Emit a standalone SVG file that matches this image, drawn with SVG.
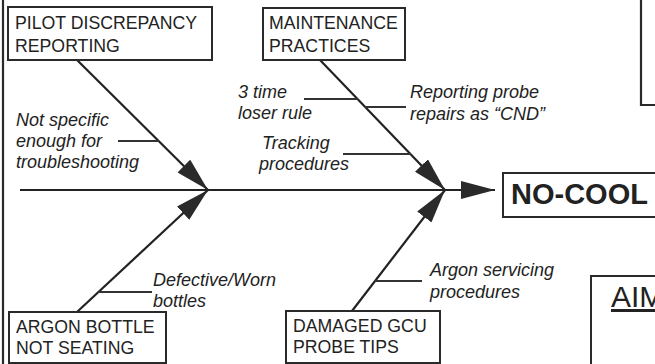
<svg xmlns="http://www.w3.org/2000/svg" width="655" height="364" viewBox="0 0 655 364">
  <style>
    .box { fill: #fff; stroke: #2a2a2a; stroke-width: 2; }
    .frame { fill: none; stroke: #2a2a2a; stroke-width: 2.2; }
    .cause { font-family: "Liberation Sans", Arial, sans-serif; font-size: 17.7px; fill: #222; }
    .note { font-family: "Liberation Sans", Arial, sans-serif; font-size: 18px; font-style: italic; fill: #222; }
    .effect { font-family: "Liberation Sans", Arial, sans-serif; font-size: 29px; font-weight: bold; fill: #222; }
    .aim { font-family: "Liberation Sans", Arial, sans-serif; font-size: 30px; fill: #222; text-decoration: underline; }
    .bone { stroke: #222; stroke-width: 2.2; fill: none; }
    .twig { stroke: #333; stroke-width: 2; fill: none; }
  </style>
  <defs>
    <marker id="head" markerUnits="userSpaceOnUse" markerWidth="34" markerHeight="18" viewBox="0 0 34 18" refX="34" refY="9" orient="auto">
      <path d="M0,0 L34,9 L0,18 Z" fill="#2a2a2a"/>
    </marker>
  </defs>

  <rect width="655" height="364" fill="#fff"/>

  <!-- page frame edges -->
  <line x1="3" y1="0" x2="3" y2="364" class="frame"/>
  <path d="M641,0 V105 H655" class="frame"/>

  <!-- connectors: spine, bones and sub-cause ticks -->
  <g id="connectors">
    <line x1="20" y1="190" x2="495" y2="190" class="bone" marker-end="url(#head)"/>
    <line x1="77" y1="60" x2="208" y2="190" class="bone" marker-end="url(#head)"/>
    <line x1="320" y1="60" x2="445" y2="190" class="bone" marker-end="url(#head)"/>
    <line x1="77" y1="312" x2="208" y2="190" class="bone" marker-end="url(#head)"/>
    <line x1="352" y1="311" x2="445" y2="190" class="bone" marker-end="url(#head)"/>

    <line x1="118" y1="141" x2="159" y2="141" class="twig"/>
    <line x1="304" y1="99" x2="358" y2="99" class="twig"/>
    <line x1="365" y1="107" x2="406" y2="107" class="twig"/>
    <line x1="343" y1="154" x2="411" y2="154" class="twig"/>
    <line x1="98" y1="292" x2="152" y2="292" class="twig"/>
    <line x1="375" y1="281" x2="422" y2="281" class="twig"/>
  </g>

  <g id="pilot-reporting">
    <rect x="8" y="7" width="204" height="53" class="box"/>
    <text x="15" y="29" class="cause">PILOT DISCREPANCY</text>
    <text x="15" y="52" class="cause">REPORTING</text>
    <text x="16" y="126" class="note">Not specific</text>
    <text x="16" y="147" class="note">enough for</text>
    <text x="16" y="168" class="note">troubleshooting</text>
  </g>

  <g id="maintenance-practices">
    <rect x="263" y="8" width="142" height="52" class="box"/>
    <text x="269" y="29" class="cause">MAINTENANCE</text>
    <text x="269" y="52" class="cause">PRACTICES</text>
    <text x="238" y="98" class="note">3 time</text>
    <text x="238" y="119" class="note">loser rule</text>
    <text x="410" y="98" class="note">Reporting probe</text>
    <text x="410" y="120" class="note">repairs as “CND”</text>
    <text x="262" y="149" class="note">Tracking</text>
    <text x="259" y="170" class="note">procedures</text>
  </g>

  <g id="argon-bottle">
    <rect x="9" y="312" width="157" height="51" class="box"/>
    <text x="16" y="333" class="cause">ARGON BOTTLE</text>
    <text x="16" y="354" class="cause">NOT SEATING</text>
    <text x="153" y="286" class="note">Defective/Worn</text>
    <text x="153" y="307" class="note">bottles</text>
  </g>

  <g id="damaged-probe-tips">
    <rect x="286" y="311" width="154" height="52" class="box"/>
    <text x="293" y="332" class="cause">DAMAGED GCU</text>
    <text x="293" y="353" class="cause">PROBE TIPS</text>
    <text x="430" y="276" class="note">Argon servicing</text>
    <text x="430" y="298" class="note">procedures</text>
  </g>

  <g id="no-cool">
    <rect x="503" y="173" width="160" height="44" class="box"/>
    <text x="511" y="204" class="effect">NO-COOL</text>
  </g>

  <g id="aim">
    <rect x="591" y="276" width="80" height="100" class="box"/>
    <text x="611" y="307" class="aim">AIM</text>
  </g>
</svg>
